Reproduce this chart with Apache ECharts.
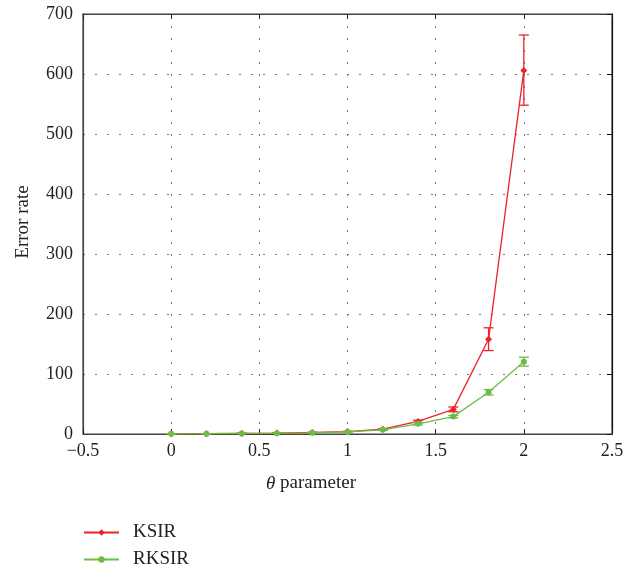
<!DOCTYPE html>
<html>
<head>
<meta charset="utf-8">
<script src="https://cdn.jsdelivr.net/npm/echarts@6/dist/echarts.min.js"></script>
<style>html,body{margin:0;padding:0;background:#fff}#c{width:638px;height:571px}</style>
</head>
<body>
<div id="c"></div>
<script>
var theta = [0, 0.2, 0.4, 0.6, 0.8, 1.0, 1.2, 1.4, 1.6, 1.8, 2.0];
var ksir = [0.3, 0.5, 1, 1.5, 2.5, 4, 8, 21, 41, 158, 606];
var ksirLow = [0.2, 0.4, 0.8, 1.2, 2, 3.5, 7, 19, 37, 139, 548];
var ksirHigh = [0.4, 0.6, 1.2, 1.8, 3, 4.5, 9, 23, 45, 177, 665];
var rksir = [0.3, 0.5, 0.9, 1.3, 2, 3.5, 7, 17, 29, 69.5, 120.5];
var rksirLow = [0.2, 0.4, 0.7, 1.1, 1.7, 3, 6, 15, 27, 65, 113];
var rksirHigh = [0.4, 0.6, 1.1, 1.5, 2.3, 4, 8, 19, 31, 74, 128];
var xTicks = [-0.5, 0, 0.5, 1, 1.5, 2, 2.5];
var yTicks = [0, 100, 200, 300, 400, 500, 600, 700];
var seriesNames = ['KSIR', 'RKSIR'];
var xName = 'θ parameter';
var yName = 'Error rate';

var RED = '#ec2228';
var GREEN = '#6cbd45';
var FONT = '"Liberation Serif", "DejaVu Serif", serif';

function pairs(xs, ys) { return xs.map(function (x, i) { return [x, ys[i]]; }); }
function errData(xs, lo, hi) { return xs.map(function (x, i) { return [x, lo[i], hi[i]]; }); }

function errRender(color) {
  return function (params, api) {
    var x = api.value(0);
    var p1 = api.coord([x, api.value(1)]);
    var p2 = api.coord([x, api.value(2)]);
    var w = 5;
    var st = { stroke: color, lineWidth: 1.3 };
    return {
      type: 'group',
      children: [
        { type: 'line', shape: { x1: p1[0], y1: p1[1], x2: p2[0], y2: p2[1] }, style: st },
        { type: 'line', shape: { x1: p1[0] - w, y1: p1[1], x2: p1[0] + w, y2: p1[1] }, style: st },
        { type: 'line', shape: { x1: p2[0] - w, y1: p2[1], x2: p2[0] + w, y2: p2[1] }, style: st }
      ]
    };
  };
}

var chart = echarts.init(document.getElementById('c'), null, { renderer: 'canvas' });
var labelStyle = { color: '#222', fontFamily: FONT, fontSize: 18 };
function legendFor(name, top) {
  return {
    orient: 'horizontal', left: 83, top: top, padding: 0, itemWidth: 35, itemHeight: 8, itemGap: 10,
    data: [name],
    textStyle: { color: '#222', fontFamily: FONT, fontSize: 19, padding: [0, 0, 0, 9] }
  };
}
var option = {
  animation: false,
  backgroundColor: '#fff',
  grid: { left: 83, right: 26, top: 14, height: 420, show: true, borderColor: '#444', borderWidth: 1.2 },
  xAxis: [{
    type: 'value', min: -0.5, max: 2.5, interval: 0.5,
    axisLine: { show: true, onZero: false, lineStyle: { color: '#444', width: 1.2 } },
    axisTick: { show: true, inside: true, length: 5, lineStyle: { color: '#222' } },
    axisLabel: Object.assign({ margin: 8, formatter: function (v) { return String(v).replace('-', '\u2212'); } }, labelStyle),
    splitLine: { show: true, lineStyle: { color: '#777', type: [2, 10], width: 1 } }
  }, {
    type: 'value', position: 'top', min: -0.5, max: 2.5, interval: 0.5,
    axisLine: { show: true, onZero: false, lineStyle: { color: '#444', width: 1.2 } },
    axisTick: { show: true, inside: true, length: 5, lineStyle: { color: '#222' } },
    axisLabel: { show: false }, splitLine: { show: false }
  }],
  yAxis: [{
    type: 'value', min: 0, max: 700, interval: 100,
    axisLine: { show: true, onZero: false, lineStyle: { color: '#444', width: 1.2 } },
    axisTick: { show: false },
    axisLabel: Object.assign({ margin: 10 }, labelStyle),
    splitLine: { show: true, lineStyle: { color: '#777', type: [2, 10], width: 1 } }
  }, {
    type: 'value', position: 'right', min: 0, max: 700, interval: 100,
    axisLine: { show: true, onZero: false, lineStyle: { color: '#111', width: 1.2 } },
    axisTick: { show: true, inside: true, length: 5, lineStyle: { color: '#111' } },
    axisLabel: { show: false }, splitLine: { show: false }
  }],
  legend: [legendFor(seriesNames[0], 523), legendFor(seriesNames[1], 550)],
  series: [
    { name: seriesNames[0], type: 'line', data: pairs(theta, ksir), color: RED,
      lineStyle: { width: 1.3, color: RED }, symbol: 'diamond', symbolSize: 7, itemStyle: { color: RED }, z: 3 },
    { name: seriesNames[0] + '_err', type: 'custom', data: errData(theta, ksirLow, ksirHigh),
      renderItem: errRender(RED), z: 3, encode: { x: 0, y: [1, 2] } },
    { name: seriesNames[1], type: 'line', data: pairs(theta, rksir), color: GREEN,
      lineStyle: { width: 1.3, color: GREEN }, symbol: 'circle', symbolSize: 6, itemStyle: { color: GREEN }, z: 4 },
    { name: seriesNames[1] + '_err', type: 'custom', data: errData(theta, rksirLow, rksirHigh),
      renderItem: errRender(GREEN), z: 4, encode: { x: 0, y: [1, 2] } }
  ],
  graphic: [
    { type: 'text', left: 266, top: 474, style: { text: '{i|θ} parameter', fill: '#222', font: '19px ' + FONT,
      rich: { i: { fontStyle: 'italic', fontFamily: FONT, fontSize: 19, fill: '#222' } } } },
    { type: 'text', x: 23, y: 222, rotation: Math.PI / 2, style: { text: yName, fill: '#222', font: '19px ' + FONT,
      align: 'center', verticalAlign: 'middle' } }
  ]
};
chart.setOption(option);
</script>
</body>
</html>
